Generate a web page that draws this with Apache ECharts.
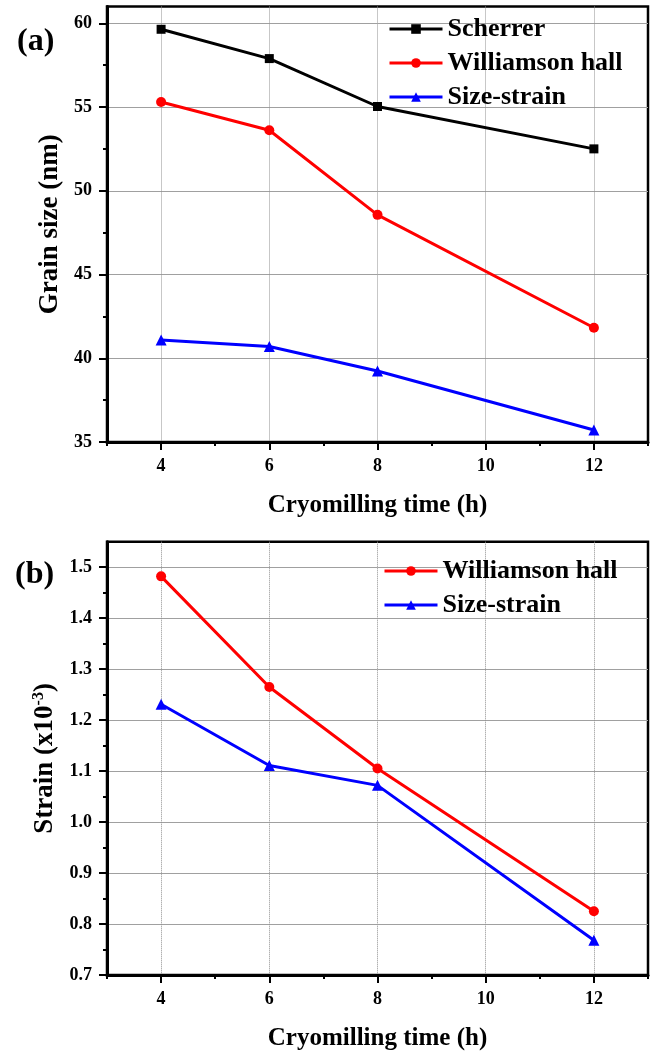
<!DOCTYPE html>
<html>
<head>
<meta charset="utf-8">
<script src="https://cdn.jsdelivr.net/npm/echarts@6/dist/echarts.min.js"></script>
<style>
html,body{margin:0;padding:0;background:#fff;}
#c{width:657px;height:1052px;}
</style>
</head>
<body>
<div id="c"></div>
<script>
// ---- data ----
var hours = [4, 6, 8, 12];
var scherrerSize = [59.64, 57.89, 55.03, 52.5];
var whSize = [55.3, 53.61, 48.56, 41.82];
var ssSize = [41.09, 40.7, 39.24, 35.72];
var whStrain = [1.482, 1.265, 1.105, 0.825];
var ssStrain = [1.231, 1.111, 1.072, 0.768];

var xMajorTicks = [4, 6, 8, 10, 12];
var xMinorTicks = [3, 5, 7, 9, 11, 13];
var sizeMajorTicks = [35, 40, 45, 50, 55, 60];
var sizeMinorTicks = [37.5, 42.5, 47.5, 52.5, 57.5];
var strainMajorTicks = [0.7, 0.8, 0.9, 1.0, 1.1, 1.2, 1.3, 1.4, 1.5];
var strainMinorTicks = [0.75, 0.85, 0.95, 1.05, 1.15, 1.25, 1.35, 1.45];

function pairs(xs, ys) { return xs.map(function (x, i) { return [x, ys[i]]; }); }

var FONT = "'Liberation Serif','Times New Roman',serif";

function xAxes(gridIndex) {
  return [
    {
      type: 'value', gridIndex: gridIndex, min: 3, max: 13, interval: 1, position: 'bottom',
      name: 'Cryomilling time (h)', nameLocation: 'middle', nameGap: 51,
      nameTextStyle: { fontFamily: FONT, fontWeight: 'bold', fontSize: 25, color: '#000' },
      axisLine: { show: true, onZero: false, lineStyle: { color: '#000', width: 3 } },
      axisTick: { show: true, inside: false, length: 8, customValues: xMajorTicks, lineStyle: { color: '#000', width: 2 } },
      axisLabel: { show: true, margin: 15, customValues: xMajorTicks, fontFamily: FONT, fontWeight: 'bold', fontSize: 18, color: '#000' },
      splitLine: { show: false }
    },
    {
      type: 'value', gridIndex: gridIndex, min: 3, max: 13, interval: 1, position: 'bottom',
      axisLine: { show: false, onZero: false },
      axisTick: { show: true, inside: false, length: 4, customValues: xMinorTicks, lineStyle: { color: '#000', width: 2 } },
      axisLabel: { show: false },
      splitLine: { show: false }
    },
    {
      type: 'value', gridIndex: gridIndex, min: 3, max: 13, interval: 1, position: 'bottom',
      axisLine: { show: false, onZero: false },
      axisTick: { show: false },
      axisLabel: { show: false },
      splitLine: { show: true, lineStyle: { color: ['rgba(0,0,0,0)', '#909090'], type: 'dotted', width: 1 } }
    }
  ];
}

var legendText = { fontFamily: FONT, fontWeight: 'bold', fontSize: 26, lineHeight: 26, color: '#000' };

var option = {
  animation: false,
  backgroundColor: '#fff',
  title: [
    { text: '(a)', left: 12, top: 21, textStyle: { fontFamily: FONT, fontWeight: 'bold', fontSize: 32, color: '#000' } },
    { text: '(b)', left: 10, top: 554, textStyle: { fontFamily: FONT, fontWeight: 'bold', fontSize: 32, color: '#000' } }
  ],
  grid: [
    { left: 107, right: 9, top: 6.5, height: 435.5, show: true, borderColor: '#000', borderWidth: 2.5, containLabel: false },
    { left: 107, right: 9, top: 541.7, height: 435, show: true, borderColor: '#000', borderWidth: 2.5, containLabel: false }
  ],
  legend: [
    {
      orient: 'vertical', left: 383, top: 11, itemWidth: 53, itemHeight: 12, itemGap: 8,
      lineStyle: { width: 3 },
      textStyle: legendText,
      data: ['Scherrer', 'Williamson hall', 'Size-strain']
    },
    {
      orient: 'vertical', left: 378, top: 553, itemWidth: 53, itemHeight: 12, itemGap: 8,
      lineStyle: { width: 3 },
      textStyle: legendText,
      data: ['Williamson hall', 'Size-strain']
    }
  ],
  xAxis: xAxes(0).concat(xAxes(1)),
  yAxis: [
    {
      type: 'value', gridIndex: 0, min: 35, max: 61, interval: 5,
      name: 'Grain size (nm)', nameLocation: 'middle', nameGap: 40,
      nameTextStyle: { fontFamily: FONT, fontWeight: 'bold', fontSize: 27, color: '#000' },
      axisLine: { show: true, onZero: false, lineStyle: { color: '#000', width: 3 } },
      axisTick: { show: true, length: 8, customValues: sizeMajorTicks, lineStyle: { color: '#000', width: 2 } },
      axisLabel: { margin: 15, customValues: sizeMajorTicks, fontFamily: FONT, fontWeight: 'bold', fontSize: 18, color: '#000' },
      splitLine: { show: true, lineStyle: { color: '#a0a0a0', width: 1 } }
    },
    {
      type: 'value', gridIndex: 0, min: 35, max: 61, interval: 5, position: 'left',
      axisLine: { show: false, onZero: false },
      axisTick: { show: true, length: 4, customValues: sizeMinorTicks, lineStyle: { color: '#000', width: 2 } },
      axisLabel: { show: false },
      splitLine: { show: false }
    },
    {
      type: 'value', gridIndex: 1, min: 0.7, max: 1.55, interval: 0.1,
      name: '{a|Strain (x10}{s|-3}{a|)}', nameLocation: 'middle', nameGap: 40,
      nameTextStyle: {
        fontFamily: FONT, fontWeight: 'bold', fontSize: 27, color: '#000',
        rich: {
          a: { fontFamily: FONT, fontWeight: 'bold', fontSize: 27, color: '#000', verticalAlign: 'bottom' },
          s: { fontFamily: FONT, fontWeight: 'bold', fontSize: 16, color: '#000', verticalAlign: 'top', padding: [0, 0, 12, 0] }
        }
      },
      axisLine: { show: true, onZero: false, lineStyle: { color: '#000', width: 3 } },
      axisTick: { show: true, length: 8, customValues: strainMajorTicks, lineStyle: { color: '#000', width: 2 } },
      axisLabel: {
        margin: 15, customValues: strainMajorTicks, fontFamily: FONT, fontWeight: 'bold', fontSize: 18, color: '#000',
        formatter: function (v) { return Number(v).toFixed(1); }
      },
      splitLine: { show: true, lineStyle: { color: '#a0a0a0', width: 1 } }
    },
    {
      type: 'value', gridIndex: 1, min: 0.7, max: 1.55, interval: 0.1, position: 'left',
      axisLine: { show: false, onZero: false },
      axisTick: { show: true, length: 4, customValues: strainMinorTicks, lineStyle: { color: '#000', width: 2 } },
      axisLabel: { show: false },
      splitLine: { show: false }
    }
  ],
  series: [
    {
      name: 'Scherrer', type: 'line', xAxisIndex: 0, yAxisIndex: 0, data: pairs(hours, scherrerSize),
      symbol: 'rect', symbolSize: 9, lineStyle: { color: '#000', width: 3 }, itemStyle: { color: '#000' }, z: 5
    },
    {
      name: 'Williamson hall', type: 'line', xAxisIndex: 0, yAxisIndex: 0, data: pairs(hours, whSize),
      symbol: 'circle', symbolSize: 10, lineStyle: { color: '#ff0000', width: 3 }, itemStyle: { color: '#ff0000' }, z: 5
    },
    {
      name: 'Size-strain', type: 'line', xAxisIndex: 0, yAxisIndex: 0, data: pairs(hours, ssSize),
      symbol: 'triangle', symbolSize: 11, lineStyle: { color: '#0000ff', width: 3 }, itemStyle: { color: '#0000ff' }, z: 5
    },
    {
      name: 'Williamson hall', type: 'line', xAxisIndex: 3, yAxisIndex: 2, data: pairs(hours, whStrain),
      symbol: 'circle', symbolSize: 10, lineStyle: { color: '#ff0000', width: 3 }, itemStyle: { color: '#ff0000' }, z: 5
    },
    {
      name: 'Size-strain', type: 'line', xAxisIndex: 3, yAxisIndex: 2, data: pairs(hours, ssStrain),
      symbol: 'triangle', symbolSize: 11, lineStyle: { color: '#0000ff', width: 3 }, itemStyle: { color: '#0000ff' }, z: 5
    }
  ]
};

var chart = echarts.init(document.getElementById('c'), null, { renderer: 'canvas' });
chart.setOption(option);
</script>
</body>
</html>
